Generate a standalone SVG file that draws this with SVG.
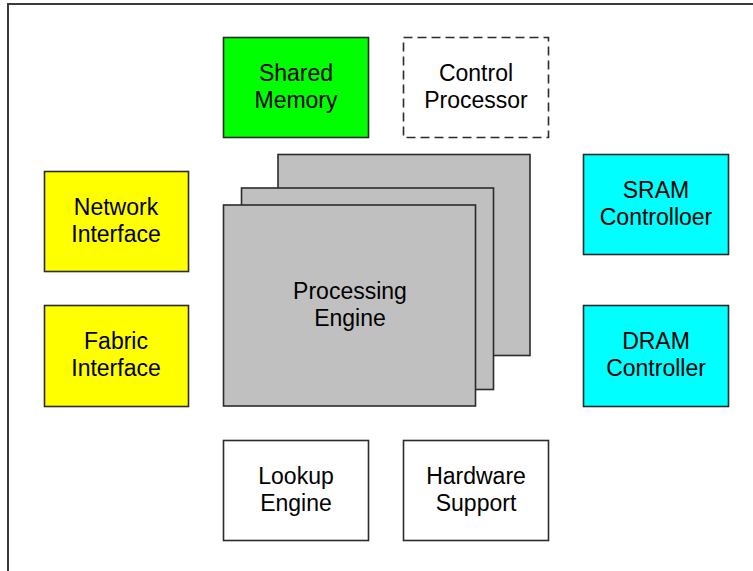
<svg xmlns="http://www.w3.org/2000/svg" width="753" height="571" viewBox="0 0 753 571">
  <style>
    .box { stroke: #2b2b2b; stroke-width: 1.6; }
    .dash { fill: #ffffff; stroke: #2b2b2b; stroke-width: 1.6; stroke-dasharray: 9 5; }
    .lbl { font-family: "Liberation Sans", Arial, sans-serif; font-size: 23px; fill: #000; text-anchor: middle; }
  </style>
  <rect width="753" height="571" fill="#ffffff"/>
  <!-- page frame -->
  <path d="M8 571 V4 H753" fill="none" stroke="#3a3a3a" stroke-width="2"/>

  <g id="shared-memory">
    <rect class="box" x="223.5" y="37.5" width="145" height="100" fill="#00ff00"/>
    <text class="lbl" x="296" y="81">Shared</text>
    <text class="lbl" x="296" y="108">Memory</text>
  </g>
  <g id="control-processor">
    <rect class="dash" x="403.5" y="37.5" width="145" height="100"/>
    <text class="lbl" x="476" y="81">Control</text>
    <text class="lbl" x="476" y="108">Processor</text>
  </g>
  <g id="network-interface">
    <rect class="box" x="44.5" y="171.5" width="144" height="100" fill="#ffff00"/>
    <text class="lbl" x="116" y="215">Network</text>
    <text class="lbl" x="116" y="242">Interface</text>
  </g>
  <g id="fabric-interface">
    <rect class="box" x="44.5" y="305.5" width="144" height="101" fill="#ffff00"/>
    <text class="lbl" x="116" y="349">Fabric</text>
    <text class="lbl" x="116" y="376">Interface</text>
  </g>
  <g id="sram-controller">
    <rect class="box" x="583.5" y="154.5" width="145" height="100" fill="#00ffff"/>
    <text class="lbl" x="656" y="198">SRAM</text>
    <text class="lbl" x="656" y="225">Controlloer</text>
  </g>
  <g id="dram-controller">
    <rect class="box" x="583.5" y="305.5" width="145" height="101" fill="#00ffff"/>
    <text class="lbl" x="656" y="349">DRAM</text>
    <text class="lbl" x="656" y="376">Controller</text>
  </g>
  <g id="processing-engine">
    <rect class="box" x="278" y="154.5" width="252" height="201" fill="#c0c0c0"/>
    <rect class="box" x="241.5" y="188" width="252" height="201.5" fill="#c0c0c0"/>
    <rect class="box" x="223.5" y="205" width="252" height="201" fill="#c0c0c0"/>
    <text class="lbl" x="350" y="299">Processing</text>
    <text class="lbl" x="350" y="326">Engine</text>
  </g>
  <g id="lookup-engine">
    <rect class="box" x="223.5" y="440.5" width="145" height="100" fill="#ffffff"/>
    <text class="lbl" x="296" y="484">Lookup</text>
    <text class="lbl" x="296" y="511">Engine</text>
  </g>
  <g id="hardware-support">
    <rect class="box" x="403.5" y="440.5" width="145" height="100" fill="#ffffff"/>
    <text class="lbl" x="476" y="484">Hardware</text>
    <text class="lbl" x="476" y="511">Support</text>
  </g>
  <g id="connectors"/>
</svg>
